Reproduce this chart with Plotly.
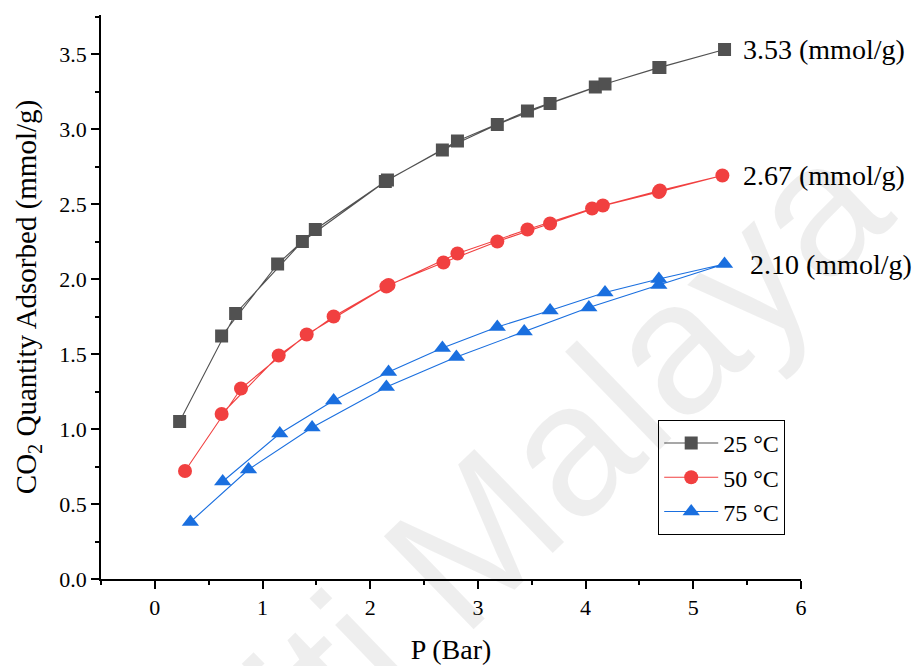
import plotly.graph_objects as go

# 25 °C: adsorption (increasing P) then desorption (decreasing P)
p_25 = [0.23, 0.75, 1.37, 2.14, 2.81, 3.46, 4.09, 4.68, 5.29,
        4.69, 4.18, 3.67, 3.18, 2.67, 2.16, 1.49, 1.14, 0.62]
q_25 = [1.05, 1.77, 2.25, 2.65, 2.92, 3.12, 3.28, 3.41, 3.53,
        3.41, 3.30, 3.17, 3.03, 2.86, 2.66, 2.33, 2.10, 1.62]

p_50 = [0.28, 0.80, 1.41, 2.15, 2.81, 3.46, 4.06, 4.68, 5.27,
        4.69, 4.16, 3.67, 3.18, 2.68, 2.17, 1.66, 1.15, 0.62]
q_50 = [0.72, 1.27, 1.63, 1.95, 2.17, 2.33, 2.47, 2.58, 2.69,
        2.59, 2.49, 2.37, 2.25, 2.11, 1.96, 1.75, 1.49, 1.10]

p_75 = [0.33, 0.87, 1.46, 2.15, 2.80, 3.43, 4.03, 4.68, 5.29,
        4.68, 4.18, 3.67, 3.18, 2.67, 2.17, 1.66, 1.16, 0.63]
q_75 = [0.38, 0.73, 1.01, 1.28, 1.48, 1.65, 1.81, 1.96, 2.10,
        2.00, 1.91, 1.79, 1.68, 1.54, 1.38, 1.19, 0.97, 0.65]

series_names = ["25 °C", "50 °C", "75 °C"]
max_labels = ["3.53 (mmol/g)", "2.67 (mmol/g)", "2.10 (mmol/g)"]
label_x = [5.44, 5.44, 5.51]
label_y = [3.53, 2.69, 2.10]

x_ticks = [0, 1, 2, 3, 4, 5, 6]

colors = ["#515151", "#F14040", "#1A6FDF"]
symbols = ["square", "circle", "triangle-up"]
sizes = [13, 14, 15]

serif = "Liberation Serif, Times New Roman, serif"

fig = go.Figure()
for name, xs, ys, c, s, sz in zip(series_names, [p_25, p_50, p_75],
                                  [q_25, q_50, q_75], colors, symbols, sizes):
    fig.add_trace(go.Scatter(
        x=xs, y=ys, name=name, mode="lines+markers",
        line=dict(color=c, width=1.1),
        marker=dict(symbol=s, size=sz, color=c, line=dict(width=0)),
    ))

annotations = []
# watermark
annotations.append(dict(
    text="Universiti Malaya", xref="paper", yref="paper",
    x=0.34, y=-0.16, xanchor="center", yanchor="middle",
    showarrow=False, textangle=-44,
    font=dict(family="Liberation Sans, Arial, sans-serif", size=188,
              color="rgba(0,0,0,0.065)"),
))
for t, lx, ly in zip(max_labels, label_x, label_y):
    annotations.append(dict(
        text=t, x=lx, y=ly, xref="x", yref="y", xanchor="left",
        yanchor="middle", showarrow=False,
        font=dict(family=serif, size=28, color="black"),
    ))

fig.update_layout(
    width=921, height=666,
    margin=dict(l=101, r=120, t=15, b=87),
    paper_bgcolor="white", plot_bgcolor="white",
    font=dict(family=serif, color="black"),
    annotations=annotations,
    legend=dict(
        x=0.796, y=0.282, xanchor="left", yanchor="top",
        bordercolor="black", borderwidth=1, bgcolor="rgba(255,255,255,0)",
        font=dict(family=serif, size=24, color="black"),
        tracegroupgap=0, itemwidth=54,
    ),
    xaxis=dict(
        range=[-0.5, 6], tickvals=x_ticks, ticktext=[str(v) for v in x_ticks],
        showline=True, linecolor="black", linewidth=1.5,
        ticks="outside", ticklen=8, tickwidth=1.5, tickcolor="black",
        minor=dict(ticks="outside", ticklen=4, tickwidth=1.5,
                   tickcolor="black", dtick=0.5, tick0=0),
        showgrid=False, zeroline=False, automargin=False,
        tickfont=dict(family=serif, size=22),
        title=dict(text="P (Bar)", font=dict(family=serif, size=28), standoff=20),
    ),
    yaxis=dict(
        range=[0, 3.76], dtick=0.5, tick0=0, tickformat=".1f",
        showline=True, linecolor="black", linewidth=1.5,
        ticks="outside", ticklen=8, tickwidth=1.5, tickcolor="black",
        minor=dict(ticks="outside", ticklen=4, tickwidth=1.5,
                   tickcolor="black", dtick=0.25, tick0=0),
        showgrid=False, zeroline=False, automargin=False,
        tickfont=dict(family=serif, size=22),
        title=dict(text="CO<sub>2</sub> Quantity Adsorbed (mmol/g)",
                   font=dict(family=serif, size=29), standoff=14),
    ),
)

fig.write_html("out.html")
